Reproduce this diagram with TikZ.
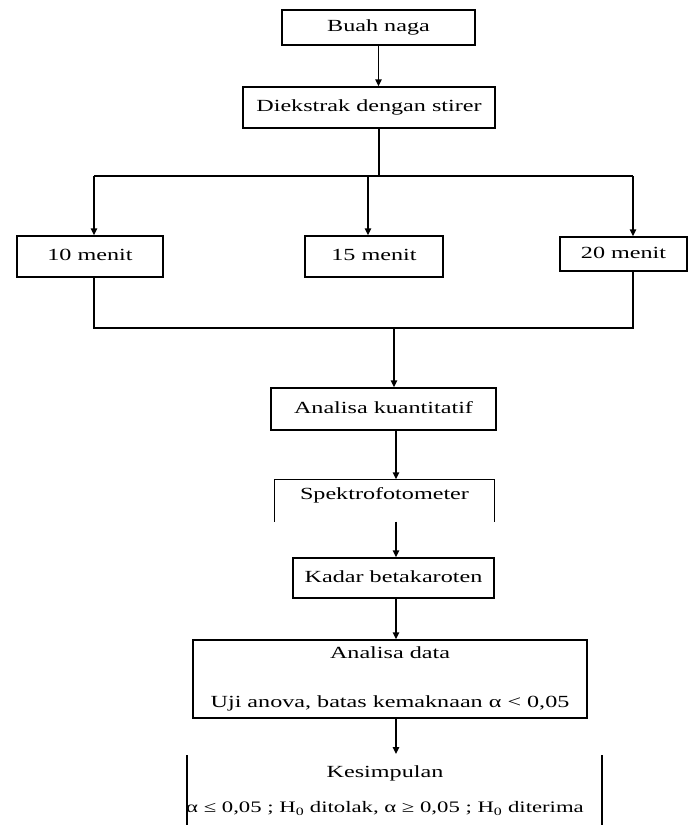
\documentclass[tikz,border=0pt]{standalone}
\usepackage{fontspec}
\setmainfont[FakeStretch=1.42]{Liberation Serif}
\usetikzlibrary{calc}
\usetikzlibrary{arrows.meta}

\begin{document}
\begin{tikzpicture}[x=1pt,y=-1pt,line width=1.4pt,
  font=\fontsize{17}{20}\selectfont,
  box/.style={draw,inner sep=0pt,text height=12pt,text depth=4pt},
  arr/.style={-{Triangle[width=6.5pt,length=7pt]}}]
\useasboundingbox (0,0) rectangle (689,825);

\node[box,minimum width=193pt,minimum height=35pt] (buah) at (378.5,27.5) {Buah naga};
\node[box,minimum width=252pt,minimum height=41pt] (ekstrak) at (369,107.5) {Diekstrak dengan stirer};
\node[box,minimum width=146pt,minimum height=41pt] (m10) at (90,256.5) {10 menit};
\node[box,minimum width=138pt,minimum height=41pt] (m15) at (374,256.5) {15 menit};
\node[box,minimum width=127pt,minimum height=34pt] (m20) at (623.5,254) {20 menit};
\node[box,minimum width=225pt,minimum height=42pt] (kuanti) at (383.5,409) {Analisa kuantitatif};
\node[inner sep=0pt,minimum width=219pt,minimum height=41pt,text height=12pt,text depth=15pt] (spek) at (384.5,500.5) {Spektrofotometer};
\node[box,minimum width=201pt,minimum height=40pt] (kadar) at (393.5,578) {Kadar betakaroten};
\node[draw,inner sep=0pt,minimum width=394pt,minimum height=78pt,align=center] (data) at (390,679) {Analisa data\\[29pt]Uji anova, batas kemaknaan α < 0,05};
\node[inner sep=0pt,align=center] (simpul) at (385,790.5) {Kesimpulan\\[15pt]{\fontsize{16}{20}\selectfont α ≤ 0,05 ; H\textsubscript{0} ditolak, α ≥ 0,05 ; H\textsubscript{0} diterima}};

% split to the three times
\coordinate (sp) at (379,176);
\coordinate (s10) at (94,176);
\coordinate (s15) at (368,176);
\coordinate (s20) at (633,176);
% join below them
\coordinate (j10) at (94,328);
\coordinate (jm) at (394,328);
\coordinate (j20) at (633,328);
\coordinate (ax) at (396,0);
\coordinate (kt) at (396,754);

\draw[arr] (buah.south) -- (buah.south |- ekstrak.north);
\draw (ekstrak.south -| sp) -- (sp);
\draw (s10) -- (s20);
\draw[arr] (s10) -- (s10 |- m10.north);
\draw[arr] (s15) -- (s15 |- m15.north);
\draw[arr] (s20) -- (s20 |- m20.north);
\draw (s10 |- m10.south) -- (j10) -- (j20) -- (s20 |- m20.south);
\draw[arr] (jm) -- (jm |- kuanti.north);
\draw[arr] (kuanti.south -| ax) -- (spek.north -| ax);
\draw (spek.south west) -- (spek.north west) -- (spek.north east) -- (spek.south east);
\draw[arr] (spek.south -| ax) -- (kadar.north -| ax);
\draw[arr] (kadar.south -| ax) -- (data.north -| ax);
\draw[arr] (data.south -| ax) -- (kt);
\draw (187,755) -- (187,826);
\draw (602,755) -- (602,826);
\end{tikzpicture}
\end{document}
